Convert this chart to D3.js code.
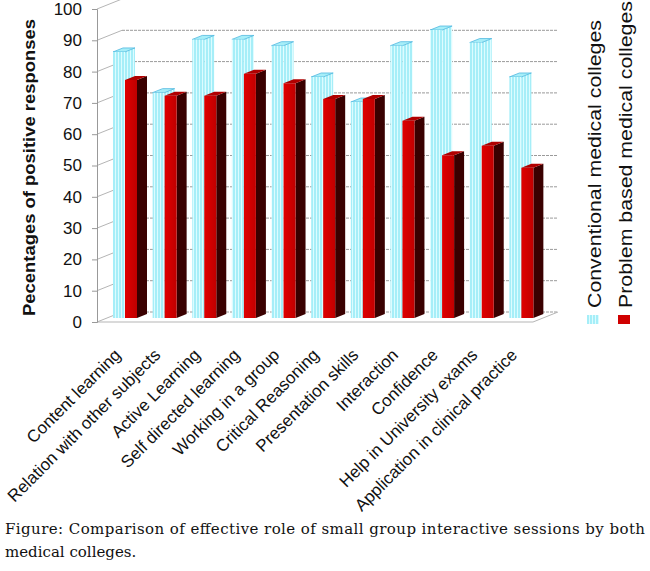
<!DOCTYPE html>
<html lang="en">
<head>
<meta charset="utf-8">
<script src="https://d3js.org/d3.v7.min.js"></script>
<style type="text/css">
body {
  margin: 0;
  background: #fff;
}
.sans {
  font-family: "Liberation Sans", Arial, sans-serif;
}
.axis--y text {
  font-size: 17px;
  fill: #111;
}
.axis--x text {
  font-size: 17px;
  fill: #111;
}
.grid {
  stroke: #9a9a9a;
  stroke-width: 1;
  stroke-dasharray: 3,1;
  fill: none;
}
.wall {
  stroke: #b5b5b5;
  stroke-width: 1;
  fill: none;
}
.caption {
  font-family: "DejaVu Serif", "Liberation Serif", "Noto Serif", serif;
  font-size: 15px;
  fill: #111;
}
</style>
<title>Comparison of effective role of small group interactive sessions</title>
</head>
<body>
<script type="text/javascript">
var categories = ["Content learning", "Relation with other subjects", "Active Learning",
  "Self directed learning", "Working in a group", "Critical Reasoning", "Presentation  skills",
  "Interaction", "Confidence", "Help  in University exams", "Application in clinical practice"];
var conventional = [85, 72, 89, 89, 87, 77, 69, 87, 92, 88, 77];
var problemBased = [76, 71, 71, 78, 75, 70, 70, 63, 52, 55, 48];
var yTicks = [0, 10, 20, 30, 40, 50, 60, 70, 80, 90, 100];
var seriesNames = ["Conventional medical colleges", "Problem based medical colleges"];

var width = 650, height = 571;
// depth of the 3d box: back wall is shifted right and up
var depthX = 25, depthY = -10;

var x = d3.scaleBand().domain(categories).range([97, 533]);
var y = d3.scaleLinear().domain([0, 100]).range([322, 9]);

var svg = d3.select("body").append("svg")
  .attr("width", width)
  .attr("height", height);

var defs = svg.append("defs");
var pat = defs.append("pattern")
  .attr("id", "cyanStripes")
  .attr("patternUnits", "userSpaceOnUse")
  .attr("width", 3)
  .attr("height", 10);
pat.append("rect").attr("width", 3).attr("height", 10).attr("fill", "#a6eef8");
pat.append("rect").attr("x", 1).attr("width", 1).attr("height", 10).attr("fill", "#dcfcff");

var redGrad = defs.append("linearGradient").attr("id", "redFront");
redGrad.append("stop").attr("offset", "0%").attr("stop-color", "#e00000");
redGrad.append("stop").attr("offset", "100%").attr("stop-color", "#c00000");

// back wall gridlines
svg.append("g").selectAll("line")
  .data(yTicks)
  .enter().append("line")
  .attr("class", "grid")
  .attr("x1", 97 + depthX)
  .attr("x2", 533 + depthX)
  .attr("y1", function(d) { return y(d) + depthY; })
  .attr("y2", function(d) { return y(d) + depthY; });

// left wall lines
svg.append("g").selectAll("line")
  .data(yTicks)
  .enter().append("line")
  .attr("class", "wall")
  .attr("x1", 97)
  .attr("x2", 97 + depthX)
  .attr("y1", function(d) { return y(d); })
  .attr("y2", function(d) { return y(d) + depthY; });

// floor
svg.append("path")
  .attr("class", "wall")
  .attr("d", "M97," + y(0) + "L533," + y(0) + "L" + (533 + depthX) + "," + (y(0) + depthY));

// bars
function barFaces(x0, w, v, d0, d1) {
  var ax = depthX * d0, ay = depthY * d0;
  var bx = depthX * d1, by = depthY * d1;
  var yb = y(0), yt = y(v);
  var front = [[x0 + ax, yb + ay], [x0 + ax, yt + ay], [x0 + w + ax, yt + ay], [x0 + w + ax, yb + ay]];
  var side = [[x0 + w + ax, yb + ay], [x0 + w + ax, yt + ay], [x0 + w + bx, yt + by], [x0 + w + bx, yb + by]];
  var top = [[x0 + ax, yt + ay], [x0 + w + ax, yt + ay], [x0 + w + bx, yt + by], [x0 + bx, yt + by]];
  return {front: front, side: side, top: top};
}

function pts(a) { return a.map(function(p) { return p.join(","); }).join(" "); }

var barW = 12;
var bars = svg.append("g");
categories.forEach(function(c, i) {
  var cx = x(c) + 6;
  var f1 = barFaces(cx, barW, conventional[i], 0.4, 0.8);
  bars.append("polygon").attr("points", pts(f1.side)).attr("fill", "url(#cyanStripes)");
  bars.append("polygon").attr("points", pts(f1.top)).attr("fill", "#a6eef8")
    .attr("stroke", "#4fb8e0").attr("stroke-width", 0.8);
  bars.append("polygon").attr("points", pts(f1.front)).attr("fill", "url(#cyanStripes)");

  var f2 = barFaces(cx + barW, barW, problemBased[i], 0.4, 0.8);
  bars.append("polygon").attr("points", pts(f2.side)).attr("fill", "#3a0000");
  bars.append("polygon").attr("points", pts(f2.top)).attr("fill", "#b00000");
  bars.append("polygon").attr("points", pts(f2.front)).attr("fill", "url(#redFront)");
});

// y axis
var yAxis = svg.append("g")
  .attr("class", "axis axis--y sans")
  .attr("transform", "translate(97,0)")
  .call(d3.axisLeft(y).tickValues(yTicks).tickSize(5).tickPadding(10).tickFormat(d3.format("d")));
yAxis.attr("font-family", null).attr("font-size", null);
yAxis.select(".domain").attr("stroke", "#999");
yAxis.selectAll(".tick line").attr("stroke", "#999");

svg.append("text")
  .attr("class", "sans")
  .attr("transform", "translate(35,316) rotate(-90)")
  .attr("textLength", 297)
  .attr("lengthAdjust", "spacingAndGlyphs")
  .style("font-size", "17px")
  .style("font-weight", "bold")
  .style("fill", "#111")
  .text("Pecentages of positive responses");

// x axis labels
var xAxis = svg.append("g")
  .attr("class", "axis axis--x sans")
  .attr("transform", "translate(5,356)")
  .call(d3.axisBottom(x).tickSize(0));
xAxis.attr("font-family", null).attr("font-size", null);
xAxis.select(".domain").remove();
xAxis.selectAll("text")
  .attr("x", 0).attr("y", 0).attr("dy", 0)
  .attr("transform", "rotate(-45)")
  .style("text-anchor", "end");

// legend
var legendFill = ["url(#cyanStripes)", "#d00000"];
var legendX = [601, 632];
var legendLen = [288, 307];
seriesNames.forEach(function(name, i) {
  svg.append("rect")
    .attr("x", legendX[i] - 14)
    .attr("y", 315)
    .attr("width", 12)
    .attr("height", 9)
    .attr("fill", legendFill[i]);
  svg.append("text")
    .attr("class", "sans")
    .attr("transform", "translate(" + legendX[i] + ",308) rotate(-90)")
    .attr("textLength", legendLen[i])
    .attr("lengthAdjust", "spacingAndGlyphs")
    .style("font-size", "19px")
    .style("fill", "#111")
    .text(name);
});

// caption
svg.append("text")
  .attr("class", "caption")
  .attr("x", 5)
  .attr("y", 534)
  .attr("textLength", 640)
  .attr("lengthAdjust", "spacing")
  .text("Figure: Comparison of effective role of small group interactive sessions by both");
svg.append("text")
  .attr("class", "caption")
  .attr("x", 5)
  .attr("y", 557)
  .text("medical colleges.");
</script>
</body>
</html>
